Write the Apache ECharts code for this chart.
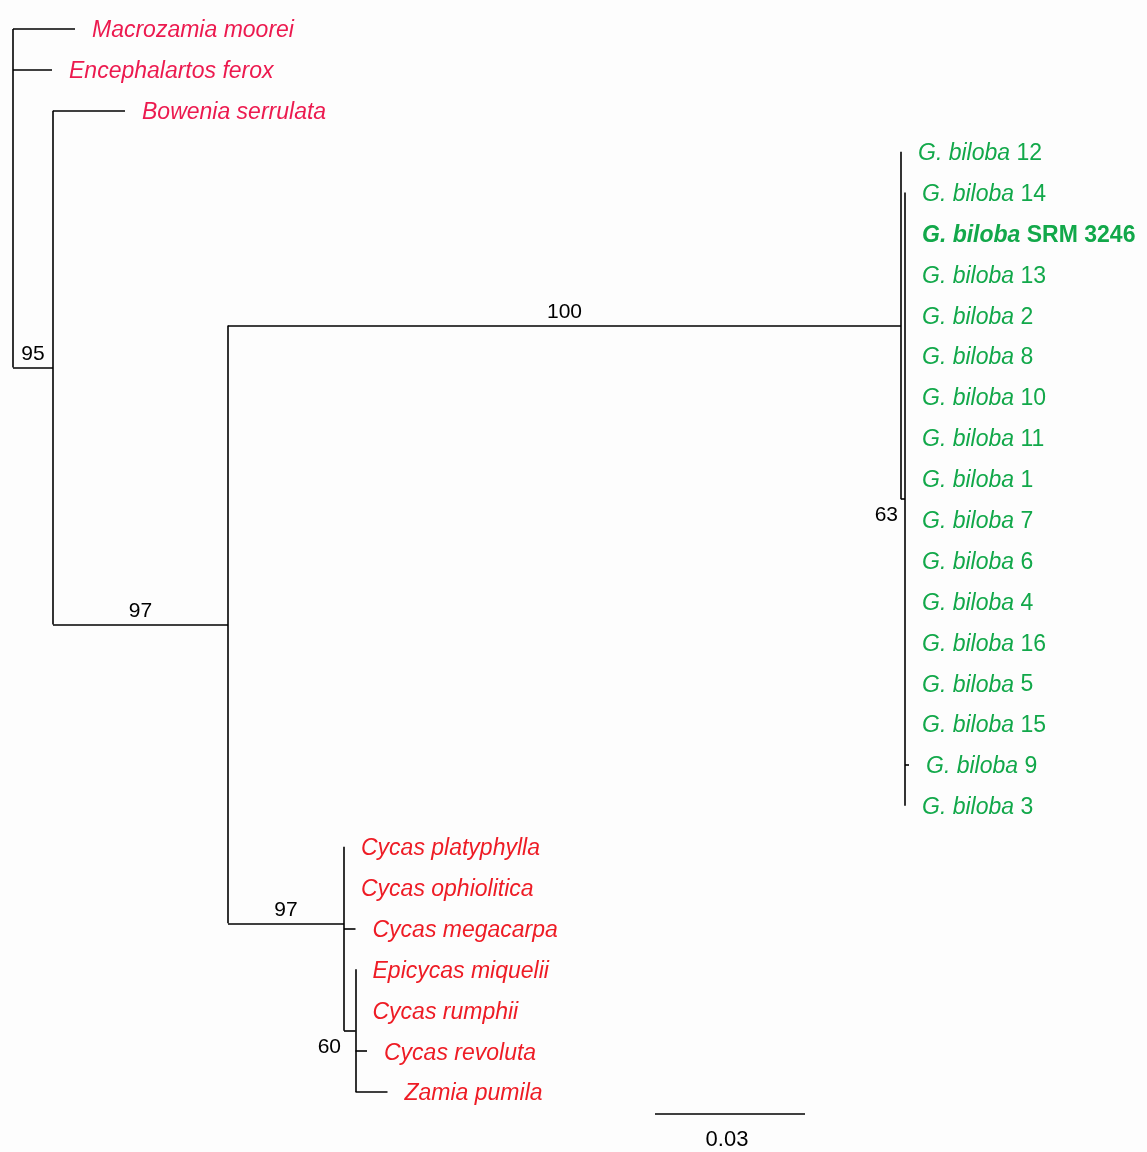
<!DOCTYPE html>
<html>
<head>
<meta charset="utf-8">
<script src="https://cdn.jsdelivr.net/npm/echarts@6/dist/echarts.min.js"></script>
<style>
  html, body { margin: 0; background: #fdfdfd; }
  #main { width: 1147px; height: 1152px; }
</style>
</head>
<body>
<div id="main"></div>
<script>
// tips, listed top to bottom
var tipNames = [
  'Macrozamia moorei', 'Encephalartos ferox', 'Bowenia serrulata',
  'G. biloba 12', 'G. biloba 14', 'G. biloba SRM 3246', 'G. biloba 13', 'G. biloba 2',
  'G. biloba 8', 'G. biloba 10', 'G. biloba 11', 'G. biloba 1', 'G. biloba 7',
  'G. biloba 6', 'G. biloba 4', 'G. biloba 16', 'G. biloba 5', 'G. biloba 15',
  'G. biloba 9', 'G. biloba 3',
  'Cycas platyphylla', 'Cycas ophiolitica', 'Cycas megacarpa', 'Epicycas miquelii',
  'Cycas rumphii', 'Cycas revoluta', 'Zamia pumila'
];
// 0 = other cycads, 1 = ginkgo, 2 = cycas clade
var tipGroup = [0, 0, 0, 1, 1, 1, 1, 1, 1, 1, 1, 1, 1, 1, 1, 1, 1, 1, 1, 1, 2, 2, 2, 2, 2, 2, 2];
var tipParent = [
  'root', 'root', 'n95',
  'n100', 'n63', 'n63', 'n63', 'n63', 'n63', 'n63', 'n63', 'n63', 'n63',
  'n63', 'n63', 'n63', 'n63', 'n63', 'n63', 'n63',
  'n97b', 'n97b', 'n97b', 'n60', 'n60', 'n60', 'n60'
];
var tipLength = [
  0.0124, 0.0078, 0.0144,
  0, 0, 0, 0, 0, 0, 0, 0, 0, 0, 0, 0, 0, 0, 0, 0.0008, 0,
  0, 0, 0.0023, 0, 0, 0.0023, 0.0064
];

// internal nodes (parents before children)
var nodeIds = ['root', 'n95', 'n97a', 'n100', 'n63', 'n97b', 'n60'];
var nodeParent = [null, 'root', 'n95', 'n97a', 'n100', 'n97a', 'n97b'];
var nodeLength = [0, 0.008, 0.035, 0.1346, 0.0008, 0.0232, 0.0023];
var nodeSupport = ['', '95', '97', '100', '63', '97', '60'];

var scaleBarLength = 0.03;

var colors = ['#ec1a4f', '#12a84a', '#ee1c25'];

/**
 * node positions from the tree
 */
var pos = {};
nodeIds.forEach(function (id, i) {
  var p = nodeParent[i];
  pos[id] = { x: p ? pos[p].x + nodeLength[i] : 0, px: p ? pos[p].x : 0, kids: [] };
});
nodeIds.forEach(function (id, i) {
  if (nodeParent[i]) pos[nodeParent[i]].kids.push(id);
});
var tips = tipNames.map(function (n, i) {
  var par = pos[tipParent[i]];
  var t = { x: par.x + tipLength[i], px: par.x, y: i };
  par.kids.push(t);
  return t;
});
for (var k = nodeIds.length - 1; k >= 0; k--) {
  var nd = pos[nodeIds[k]];
  var ys = nd.kids.map(function (c) { return typeof c === 'string' ? pos[c].y : c.y; });
  nd.y = ys.reduce(function (a, b) { return a + b; }, 0) / ys.length;
  nd.y0 = Math.min.apply(null, ys);
  nd.y1 = Math.max.apply(null, ys);
}

var segs = [];
tips.forEach(function (t) {
  segs.push({ coords: [[t.px, t.y], [t.x, t.y]] });
});
nodeIds.forEach(function (id, i) {
  var nd = pos[id];
  if (nodeParent[i]) segs.push({ coords: [[nd.px, nd.y], [nd.x, nd.y]] });
  segs.push({ coords: [[nd.x, nd.y0], [nd.x, nd.y1]] });
});

// scale bar
var sbX = 0.1284, sbY = 26.54;
segs.push({ coords: [[sbX, sbY], [sbX + scaleBarLength, sbY]] });

var tipData = tips.map(function (t, i) {
  var n = tipNames[i];
  var txt;
  if (tipGroup[i] === 1) {
    var rest = n.replace('G. biloba ', '');
    txt = rest.indexOf('SRM') === 0 ?
      '{bi|G. biloba} {b|' + rest + '}' :
      '{i|G. biloba} {n|' + rest + '}';
  } else {
    txt = '{i|' + n + '}';
  }
  return { value: [t.x, t.y], txt: txt, label: { color: colors[tipGroup[i]] } };
});

var supData = [];
nodeIds.forEach(function (id, i) {
  if (!nodeSupport[i]) return;
  var nd = pos[id];
  if (nodeLength[i] < 0.003) {
    supData.push({
      value: [nd.px, nd.y], txt: nodeSupport[i],
      label: { align: 'right', verticalAlign: 'top', offset: [-3, 6] }
    });
  } else {
    supData.push({
      value: [(nd.px + nd.x) / 2, nd.y], txt: nodeSupport[i],
      label: { align: 'center', verticalAlign: 'middle', offset: [0, -13] }
    });
  }
});

var font = "'Liberation Sans', Arial, Helvetica, sans-serif";
var chart = echarts.init(document.getElementById('main'));
chart.setOption({
  backgroundColor: '#fdfdfd',
  animation: false,
  grid: { left: 13, right: 0, top: 29, bottom: 60 },
  xAxis: { type: 'value', min: 0, max: 0.2268, show: false },
  yAxis: { type: 'value', min: 0, max: 26, inverse: true, show: false },
  series: [
    {
      type: 'lines',
      coordinateSystem: 'cartesian2d',
      clip: false,
      silent: true,
      lineStyle: { color: '#000', width: 1.6, opacity: 1 },
      data: segs
    },
    {
      type: 'scatter',
      symbolSize: 0,
      silent: true,
      clip: false,
      itemStyle: { opacity: 1 },
      label: {
        show: true,
        position: 'right',
        distance: 17,
        offset: [0, 2],
        fontFamily: font,
        fontSize: 23,
        formatter: function (p) { return p.data.txt; },
        rich: {
          i: { fontStyle: 'italic', fontSize: 23, fontFamily: font },
          n: { fontSize: 23, fontFamily: font },
          bi: { fontStyle: 'italic', fontWeight: 'bold', fontSize: 23, fontFamily: font },
          b: { fontWeight: 'bold', fontSize: 23, fontFamily: font }
        }
      },
      data: tipData
    },
    {
      type: 'scatter',
      symbolSize: 0,
      silent: true,
      clip: false,
      itemStyle: { opacity: 1 },
      label: {
        show: true,
        position: 'inside',
        color: '#000',
        fontFamily: font,
        fontSize: 21,
        formatter: function (p) { return p.data.txt; }
      },
      data: supData.concat([{
        value: [sbX + scaleBarLength / 2, sbY], txt: String(scaleBarLength),
        label: { fontSize: 22, offset: [-3, 26] }
      }])
    }
  ]
});
</script>
</body>
</html>
